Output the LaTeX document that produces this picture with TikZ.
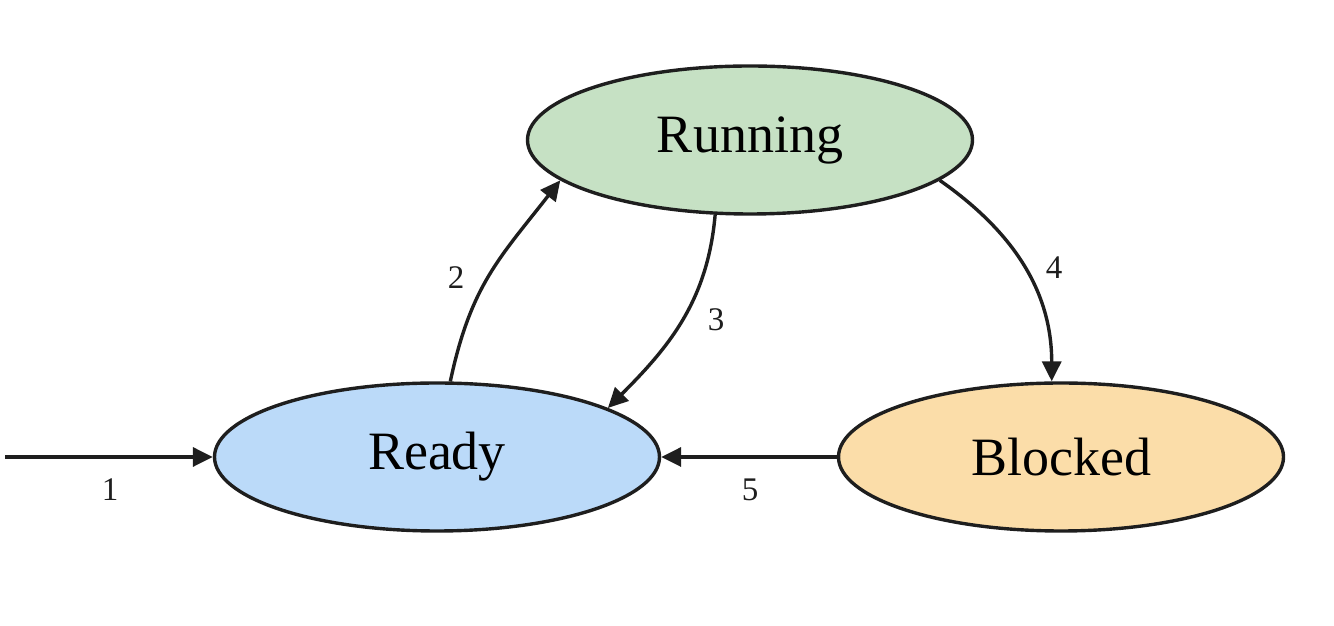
\documentclass[tikz,border=0pt]{standalone}
\usepackage{fontspec}
\setmainfont{Liberation Serif}
\usetikzlibrary{shapes.geometric,arrows.meta}
\definecolor{runfill}{HTML}{C6E1C4}
\definecolor{readyfill}{HTML}{BBDAF9}
\definecolor{blockfill}{HTML}{FBDDA9}
\definecolor{ink}{HTML}{1E1E1E}
\begin{document}
\begin{tikzpicture}[x=1pt,y=1pt,
  state/.style={ellipse,draw=ink,line width=3.4pt,minimum width=445pt,minimum height=148pt,inner sep=0pt,font=\fontsize{54}{60}\selectfont},
  conn/.style={draw=ink,line width=3.4pt,-{Triangle[length=20pt,width=19pt]}},
  lbl/.style={font=\fontsize{33}{38}\selectfont,text=ink,inner sep=0pt}]
\useasboundingbox (0,0) rectangle (1334,626);
\node[state,fill=runfill] (run) at (750,486) {\raisebox{-3pt}{Running}};
\node[state,fill=readyfill] (ready) at (437,169) {\raisebox{-3pt}{Ready}};
\node[state,fill=blockfill] (block) at (1061,169) {\raisebox{-3pt}{Blocked}};
\coordinate (start) at (5,169);
\draw[conn] (start) -- (ready.west);
\draw[conn] (ready.80) to[out=78,in=232,looseness=1.1] (run.192);
\draw[conn] (run.245) to[out=-95,in=45] (ready.16);
\draw[conn] (run.348) to[out=-35,in=90] (block.97);
\draw[conn] (block.west) -- (ready.east);
\node[lbl] (l1) at (110,136) {1};
\node[lbl] (l2) at (456,348) {2};
\node[lbl] (l3) at (716,306) {3};
\node[lbl] (l4) at (1054,358) {4};
\node[lbl] (l5) at (750,136) {5};
\end{tikzpicture}
\end{document}
